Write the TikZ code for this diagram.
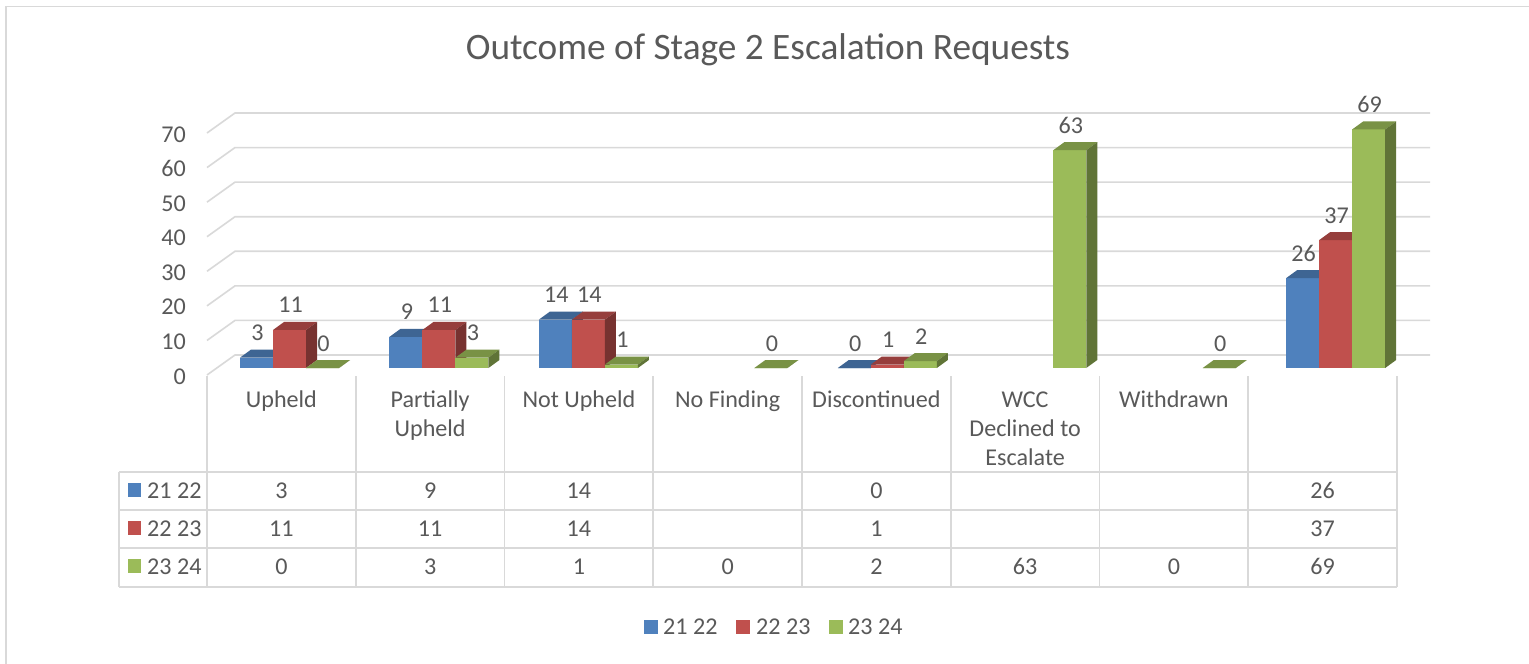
\documentclass[tikz,border=0pt]{standalone}
\usepackage{fontspec}
\setmainfont{Carlito}
\definecolor{txt}{HTML}{595959}
\definecolor{gridc}{HTML}{D9D9D9}
\definecolor{serA}{HTML}{4F81BD}
\definecolor{serB}{HTML}{C0504D}
\definecolor{serC}{HTML}{9BBB59}
\newcommand\bodyfont{\fontsize{24.1}{29}\selectfont}
\newcommand\titlefont{\fontsize{37.3}{44}\selectfont}
% one 3-D column: #1 left x, #2 value, #3 colour, #4 label name
\newcommand\drawcolumn[4]{%
  \pgfmathsetmacro\bt{368-#2*3.457}%
  \fill[#3] (#1,368) rectangle (#1+33,\bt);
  \fill[#3!78!black] (#1,\bt) -- (#1+33,\bt) -- (#1+44,\bt-8) -- (#1+11,\bt-8) -- cycle;
  \fill[#3!62!black] (#1+33,368) -- (#1+44,360) -- (#1+44,\bt-8) -- (#1+33,\bt) -- cycle;
  \node[lab] (#4) at (#1+17.5,\bt-17) {#2};
}
\begin{document}
\begin{tikzpicture}[x=1pt,y=-1pt,
  lab/.style={font=\bodyfont, text=txt, inner sep=0pt, anchor=base},
  gridline/.style={draw=gridc, line width=1.6pt},
  tabline/.style={draw=gridc, line width=1.6pt},
  swatch/.style={inner sep=0pt, minimum size=13.5pt}]
\useasboundingbox (0,0) rectangle (1529,664);
\fill[white] (0,0) rectangle (1529,664);
% chart frame
\draw[gridc, line width=1.7pt] (6,664) -- (6,6.5) -- (1529,6.5);

% title
\node[font=\titlefont, text=txt, inner sep=0pt] (title) at (768,50) {Outcome of Stage 2 Escalation Requests};

% gridlines, side wall and value axis
\foreach \v in {0,10,...,70}{
  \pgfmathsetmacro\fy{375-\v*3.457}
  \coordinate (gf\v) at (207,\fy);
  \coordinate (gb\v) at (235,\fy-20);
  \coordinate (ge\v) at (1430,\fy-20);
  \draw[gridline] (gf\v) -- (gb\v) -- (ge\v);
  \node[lab, anchor=base east] (ax\v) at (186,\fy+9) {\v};
}

% columns
\foreach \k/\a/\b/\c in {0/3/11/0, 1/9/11/3, 2/14/14/1, 3/-1/-1/0, 4/0/1/2, 5/-1/-1/63, 6/-1/-1/0, 7/26/37/69}{
  \pgfmathsetmacro\gx{240+\k*149.45}
  \ifnum\a>-1 \drawcolumn{\gx}{\a}{serA}{da\k}\fi
  \ifnum\b>-1 \drawcolumn{\gx+33}{\b}{serB}{db\k}\fi
  \ifnum\c>-1 \drawcolumn{\gx+66}{\c}{serC}{dc\k}\fi
}

% data table grid
\foreach \k in {0,...,8}{
  \pgfmathsetmacro\cx{207+\k*148.75}
  \draw[tabline] (\cx,376) -- (\cx,587);
}
\draw[tabline] (119,472) -- (119,587);
\foreach \y in {472,510,548,587}{
  \draw[tabline] (119,\y) -- (1397,\y);
}

% category labels
\foreach \k/\la/\lb/\lc in {0/Upheld//, 1/Partially/Upheld/, 2/Not Upheld//, 3/No Finding//, 4/Discontinued//, 5/WCC/Declined to/Escalate, 6/Withdrawn//, 7///}{
  \pgfmathsetmacro\cx{207+(\k+0.5)*148.75}
  \node[lab] (ca\k) at (\cx,407) {\la};
  \node[lab] (cb\k) at (\cx,436) {\lb};
  \node[lab] (cc\k) at (\cx,465) {\lc};
}

% table values
\foreach \k/\a/\b/\c in {0/3/11/0, 1/9/11/3, 2/14/14/1, 3/-1/-1/0, 4/0/1/2, 5/-1/-1/63, 6/-1/-1/0, 7/26/37/69}{
  \pgfmathsetmacro\cx{207+(\k+0.5)*148.75}
  \ifnum\a>-1 \node[lab] (ta\k) at (\cx,498) {\a};\fi
  \ifnum\b>-1 \node[lab] (tb\k) at (\cx,536) {\b};\fi
  \ifnum\c>-1 \node[lab] (tc\k) at (\cx,574) {\c};\fi
}

% row headers
\foreach \r/\y/\col/\name in {a/498/serA/21 22, b/536/serB/22 23, c/574/serC/23 24}{
  \node[swatch, fill=\col] (rs\r) at (134.5,\y-8) {};
  \node[lab, anchor=base west] (rl\r) at (147,\y) {\name};
}

% legend
\node[swatch, fill=serA] (ls1) at (651,627) {};
\node[lab, anchor=base west] (lt1) at (663,634) {21 22};
\node[swatch, fill=serB] (ls2) at (743,627) {};
\node[lab, anchor=base west] (lt2) at (756,634) {22 23};
\node[swatch, fill=serC] (ls3) at (836,627) {};
\node[lab, anchor=base west] (lt3) at (848,634) {23 24};
\end{tikzpicture}
\end{document}
